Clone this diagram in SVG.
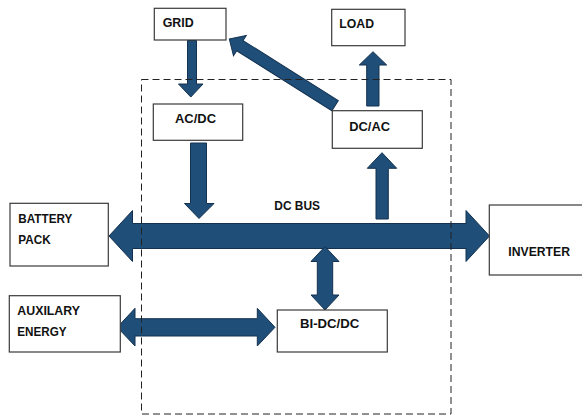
<svg xmlns="http://www.w3.org/2000/svg" width="582" height="416" viewBox="0 0 582 416">
<style>
.box{fill:#fff;stroke:#3a3a3a;stroke-width:1.2}
.arr{fill:#1f4e79;stroke:#14324f;stroke-width:1}
.lbl{font-family:"Liberation Sans",Arial,sans-serif;font-weight:bold;font-size:13px;fill:#111}
.frame{fill:none;stroke:#222;stroke-width:1;stroke-dasharray:7 4}
</style>
<rect width="582" height="416" fill="#fff"/>
<g id="connectors">
<polygon class="arr" points="109,236 132.5,210.5 132.5,223.5 466,223.5 466,210.5 489.5,236 466,261.5 466,248.5 132.5,248.5 132.5,261.5"/>
<polygon class="arr" points="187.5,40.5 196.5,40.5 196.5,84 203,84 190.8,97 178.5,84 187.5,84"/>
<polygon class="arr" points="190.5,143 206.5,143 206.5,203.5 214,203.5 199,218.5 184.5,203.5 190.5,203.5"/>
<polygon class="arr" points="376,219 388.3,219 388.3,168.3 396.7,168.3 382,152.7 367.3,168.3 376,168.3"/>
<polygon class="arr" points="366.7,106 379,106 379,65 386.7,65 373,51.7 359.3,65 366.7,65"/>
<polygon class="arr" transform="translate(229.3,39) rotate(32.2)" points="0,0 12.5,-12 12.5,-6 125,-6 125,6 12.5,6 12.5,12"/>
<polygon class="arr" points="325,246.5 339,261.5 332.7,261.5 332.7,295 339,295 325,310 311,295 317.3,295 317.3,261.5 311,261.5"/>
<polygon class="arr" points="117.3,327.3 135,308.3 135,318.7 257.3,318.7 257.3,308.3 275,327.3 257.3,346 257.3,336 135,336 135,346"/>
</g>
<rect class="frame" x="141.5" y="79.5" width="309.5" height="334.5"/>
<g id="grid">
<rect class="box" x="154.3" y="8.3" width="71.7" height="31.7"/>
<text class="lbl" x="162.7" y="27.3" textLength="31" lengthAdjust="spacingAndGlyphs">GRID</text>
</g>
<g id="load">
<rect class="box" x="331.7" y="9.3" width="73.3" height="36.4"/>
<text class="lbl" x="339.3" y="28.3" textLength="34.7" lengthAdjust="spacingAndGlyphs">LOAD</text>
</g>
<g id="acdc">
<rect class="box" x="153.3" y="104" width="89.4" height="36.3"/>
<text class="lbl" x="175" y="123.3" textLength="41" lengthAdjust="spacingAndGlyphs">AC/DC</text>
</g>
<g id="dcac">
<rect class="box" x="332.3" y="110.7" width="90" height="37.6"/>
<text class="lbl" x="349.3" y="131" textLength="40.7" lengthAdjust="spacingAndGlyphs">DC/AC</text>
</g>
<g id="dcbus">
<text class="lbl" x="274.3" y="210" textLength="45.7" lengthAdjust="spacingAndGlyphs">DC BUS</text>
</g>
<g id="battery">
<rect class="box" x="10" y="203.3" width="98.3" height="62.7"/>
<text class="lbl" x="18.3" y="223.3" textLength="54" lengthAdjust="spacingAndGlyphs">BATTERY</text>
<text class="lbl" x="18.3" y="244" textLength="32.3" lengthAdjust="spacingAndGlyphs">PACK</text>
</g>
<g id="inverter">
<rect class="box" x="489.3" y="205" width="100" height="70"/>
<text class="lbl" x="508.3" y="256" textLength="61.7" lengthAdjust="spacingAndGlyphs">INVERTER</text>
</g>
<g id="auxiliary">
<rect class="box" x="9.3" y="295.7" width="111" height="56.3"/>
<text class="lbl" x="17.3" y="315" textLength="62.7" lengthAdjust="spacingAndGlyphs">AUXILARY</text>
<text class="lbl" x="17.3" y="335.7" textLength="49.3" lengthAdjust="spacingAndGlyphs">ENERGY</text>
</g>
<g id="bidcdc">
<rect class="box" x="277.3" y="310" width="110" height="42"/>
<text class="lbl" x="300" y="328.3" textLength="59.3" lengthAdjust="spacingAndGlyphs">BI-DC/DC</text>
</g>
</svg>
